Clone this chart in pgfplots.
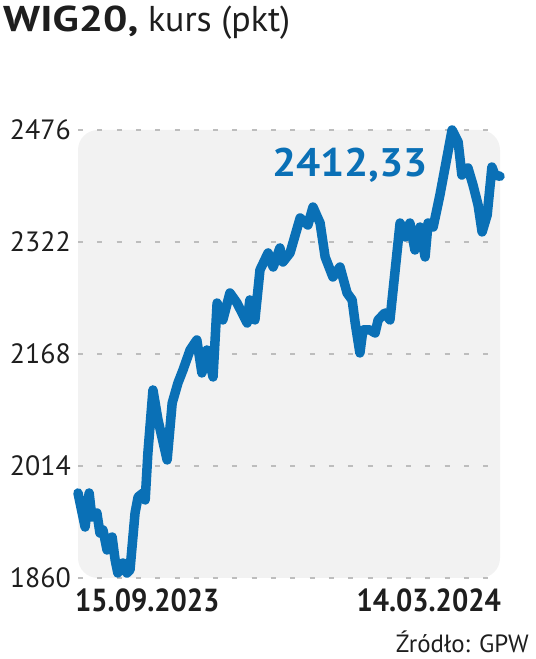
\documentclass[border=0pt]{standalone}
\usepackage{fontspec}
\setmainfont{PT Sans}
\usepackage{graphicx}
\usepackage{pgfplots}
\usepackage{pgfplotstable}
\pgfplotsset{compat=1.18}
\definecolor{wigblue}{HTML}{0A70B6}
\definecolor{panelgrey}{HTML}{F2F2F2}
\definecolor{gridgrey}{HTML}{BDBDBD}
\definecolor{txt}{HTML}{1E1E1E}

\pgfplotstableread{
x y
0 1976.9
2.1 1930.1
3.3 1976.9
4.1 1943.9
5.6 1949.4
6.5 1921.9
7.4 1926.0
8.6 1898.5
10.1 1916.4
11.0 1884.8
11.8 1866.9
13.3 1880.6
14.5 1866.9
15.4 1871.0
16.9 1949.4
17.8 1971.4
19.3 1976.9
19.9 1967.3
20.7 2031.9
22.2 2118.5
23.7 2077.3
26.4 2022.3
27.9 2100.6
29.6 2128.1
31.1 2146.0
33.2 2173.5
35.2 2187.3
36.7 2141.9
38.2 2173.5
40.0 2136.4
41.2 2238.1
42.9 2214.8
45.0 2251.9
47.1 2238.1
48.6 2224.4
50.1 2210.6
50.9 2242.3
52.4 2214.8
53.9 2283.5
56.3 2306.9
57.8 2287.6
59.8 2313.8
60.7 2294.5
62.8 2306.9
65.8 2355.0
68.1 2345.4
69.6 2370.1
71.7 2348.1
73.2 2301.4
75.5 2273.9
77.6 2287.6
79.7 2251.9
81.2 2242.3
82.1 2210.6
83.5 2169.4
84.4 2201.0
86.5 2201.0
88.0 2196.9
88.9 2214.8
90.9 2224.4
92.4 2214.8
95.4 2348.1
96.9 2328.9
98.3 2348.1
99.8 2311.0
101.3 2342.6
102.8 2301.4
103.7 2348.1
105.2 2342.6
107.2 2386.6
108.7 2423.8
110.8 2476.0
112.6 2459.5
113.7 2414.1
115.5 2423.8
117.0 2400.4
118.5 2372.9
119.7 2335.8
121.2 2359.1
122.6 2425.1
123.5 2414.1
125.0 2412.33
}\wigdata

\begin{document}
\begin{tikzpicture}[x=1bp,y=1bp]
\useasboundingbox (0,0) rectangle (536,659);
\begin{axis}[
  at={(78bp,81bp)}, anchor=south west,
  scale only axis,
  width=422bp, height=448bp,
  xmin=0, xmax=125, ymin=1860, ymax=2476,
  clip=false,
  axis line style={draw=none},
  axis background/.style={fill=panelgrey, rounded corners=20bp},
  xtick=\empty,
  ytick={1860,2014,2168,2322,2476},
  major tick length=0pt,
  ymajorgrids,
  grid style={gridgrey, line width=1.6bp, dash pattern=on 5bp off 14.3bp},
  yticklabel style={font=\fontsize{28}{30}\selectfont, text=txt, inner sep=0pt, xshift=-7bp},
  /pgf/number format/assume math mode=true,
  yticklabel={\pgfmathprintnumber[1000 sep={}]{\tick}},
]
\addplot[wigblue, line width=9.5bp, line join=round, line cap=round] table[x=x,y=y] {\wigdata};
\node[text=wigblue, inner sep=0pt, font=\fontsize{40}{42}\selectfont\bfseries] at (axis cs:80.6,2428) {\scalebox{1.07}[1]{2412,33}};
\end{axis}
\node[anchor=base west, inner sep=0pt, text=txt, font=\fontsize{36}{38}\selectfont] at (3,627) {\scalebox{1.2}[1]{\bfseries WIG20,} kurs (pkt)};
\node[anchor=base west, inner sep=0pt, text=txt, font=\fontsize{32}{34}\selectfont\bfseries] at (75,47) {\scalebox{0.9}[1]{15.09.2023}};
\node[anchor=base east, inner sep=0pt, text=txt, font=\fontsize{32}{34}\selectfont\bfseries] at (501,47) {\scalebox{0.9}[1]{14.03.2024}};
\node[anchor=base east, inner sep=0pt, text=txt, font=\fontsize{25}{27}\selectfont] at (529,6) {Źródło: GPW};
\end{tikzpicture}
\end{document}
